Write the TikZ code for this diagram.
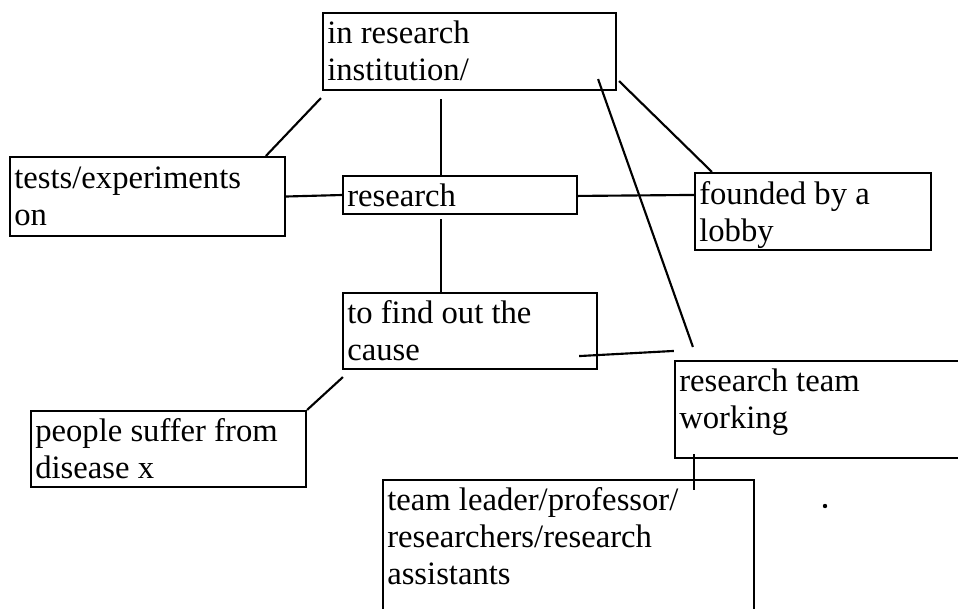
\documentclass[tikz,border=0pt]{standalone}
\usepackage{fontspec}
\setmainfont{Liberation Serif}
\usetikzlibrary{fit,calc}
\begin{document}
\begin{tikzpicture}[x=0.75pt,y=-0.75pt,
  box/.style={draw, line width=1.6pt, inner sep=0pt},
  lbl/.style={anchor=base west, inner sep=0pt, font=\fontsize{24.5}{28.1}\selectfont},
  conn/.style={line width=1.6pt}]
\useasboundingbox (0,0) rectangle (958,608);
% boxes
\node[box, fit={(323,13) (616,90)}] (inst) {};
\node[box, fit={(10,157) (285,236)}] (tests) {};
\node[box, fit={(343,176) (577,214)}] (research) {};
\node[box, fit={(695,173) (931,250)}] (founded) {};
\node[box, fit={(343,293) (597,369)}] (find) {};
\node[box, fit={(31,411) (306,487)}] (people) {};
\node[box, fit={(675,361) (966,458)}] (team) {};
\node[box, fit={(383,480) (754,620)}] (leader) {};
% labels
\node[lbl] (instT) at (327,43) {\parbox[t]{12cm}{in research\\institution/}};
\node[lbl] (testsT) at (14,188) {\parbox[t]{12cm}{tests/experiments\\on}};
\node[lbl] (researchT) at (347,206) {\parbox[t]{12cm}{research}};
\node[lbl] (foundedT) at (699,204) {\parbox[t]{12cm}{founded by a\\lobby}};
\node[lbl] (findT) at (347,323) {\parbox[t]{12cm}{to find out the\\cause}};
\node[lbl] (peopleT) at (35,441) {\parbox[t]{12cm}{people suffer from\\disease x}};
\node[lbl] (teamT) at (679,391) {\parbox[t]{12cm}{research team\\working}};
\node[lbl] (leaderT) at (387,510) {\parbox[t]{12cm}{team leader/professor/\\researchers/research\\assistants}};
% connectors
\draw[conn] ($(inst.south west)+(-1,7)$) -- ($(tests.north west)+(257,0)$);
\draw[conn] ($(inst.south west)+(119,8)$) -- ($(research.north west)+(99,0)$);
\draw[conn] (tests.east) -- (research.west);
\draw[conn] ($(research.south west)+(99,4)$) -- ($(find.north west)+(99,0)$);
\draw[conn] ($(research.north east)+(0,21)$) -- ($(founded.north west)+(0,23)$);
\draw[conn] ($(inst.south east)+(2,-10)$) -- ($(founded.north west)+(18,0)$);
\draw[conn] ($(inst.south east)+(-19,-12)$) -- ($(team.north west)+(19,-13)$);
\draw[conn] ($(find.south east)+(-19,-14)$) -- ($(team.north west)+(0,-9)$);
\draw[conn] ($(find.south west)+(1,7)$) -- (people.north east);
\draw[conn] ($(team.south west)+(20,-5)$) -- ($(leader.north west)+(312,11)$);
\fill (825,506) circle (2.2);
\end{tikzpicture}
\end{document}
